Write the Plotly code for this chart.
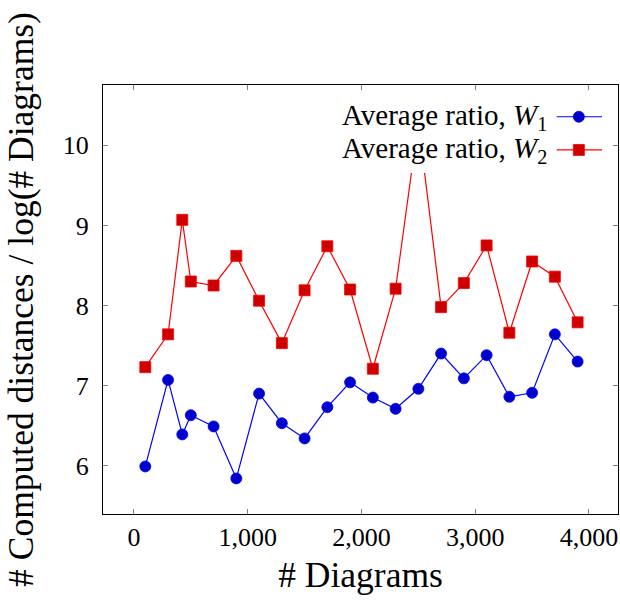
import plotly.graph_objects as go

x_vals = [100, 300, 425, 500, 700, 900, 1100, 1300, 1500, 1700, 1900, 2100,
          2300, 2500, 2700, 2900, 3100, 3300, 3500, 3700, 3900]
w1_ratio = [5.99, 7.07, 6.39, 6.63, 6.49, 5.84, 6.90, 6.53, 6.34, 6.73, 7.04, 6.85,
            6.71, 6.96, 7.40, 7.09, 7.38, 6.86, 6.91, 7.64, 7.30]
w2_ratio = [7.23, 7.64, 9.07, 8.30, 8.25, 8.62, 8.06, 7.53, 8.19, 8.74, 8.20, 7.21,
            8.21, 10.29, 7.98, 8.28, 8.75, 7.66, 8.55, 8.36, 7.79]
series_names = ["Average ratio, <i>W</i><sub>1</sub>", "Average ratio, <i>W</i><sub>2</sub>"]
x_ticks = [0, 1000, 2000, 3000, 4000]
x_tick_text = ["0", "1,000", "2,000", "3,000", "4,000"]
y_ticks = [6, 7, 8, 9, 10]

FONT = "Liberation Serif"

fig = go.Figure()
fig.add_trace(go.Scatter(
    x=x_vals, y=w1_ratio, mode="lines+markers", name=series_names[0],
    line=dict(color="#0000ff", width=1.2),
    marker=dict(symbol="circle", size=11, color="#0000cc", line=dict(color="#0000ff", width=0.8)),
    showlegend=False, cliponaxis=True))
fig.add_trace(go.Scatter(
    x=x_vals, y=w2_ratio, mode="lines+markers", name=series_names[1],
    line=dict(color="#ff0000", width=1.2),
    marker=dict(symbol="square", size=11, color="#cc0000", line=dict(color="#ff0000", width=0.8)),
    showlegend=False, cliponaxis=True))

# custom legend (text left, symbol right), drawn above the data
shapes = [dict(type="rect", xref="paper", yref="paper", x0=0.44, x1=0.985, y0=0.795, y1=0.975,
               fillcolor="white", line=dict(width=0), layer="above")]
annotations = []
rows = [(0.926, "#0000ff", "#0000cc", "circle"), (0.8486, "#ff0000", "#cc0000", "rect")]
for (yy, lc, fc, kind), name in zip(rows, series_names):
    shapes.append(dict(type="line", xref="paper", yref="paper", x0=0.881, x1=0.969, y0=yy, y1=yy,
                       line=dict(color=lc, width=1.2), layer="above"))
    hw, hh = 5.5 / 515, 5.5 / 429.3
    shapes.append(dict(type=kind, xref="paper", yref="paper", x0=0.924 - hw, x1=0.924 + hw,
                       y0=yy - hh, y1=yy + hh, fillcolor=fc, line=dict(color=lc, width=0.8),
                       layer="above"))
    annotations.append(dict(xref="paper", yref="paper", x=0.866, y=yy, text=name, showarrow=False,
                            xanchor="right", yanchor="middle",
                            font=dict(family=FONT, size=29, color="black")))

fig.update_layout(
    width=620, height=601,
    margin=dict(l=103, r=2, t=85, b=87),
    paper_bgcolor="white", plot_bgcolor="white",
    font=dict(family=FONT, color="black"),
    shapes=shapes, annotations=annotations,
    showlegend=False,
)
fig.update_xaxes(
    range=[-272, 4255], tickvals=x_ticks, ticktext=x_tick_text,
    ticks="inside", ticklen=5, tickcolor="#808080", tickwidth=1,
    showline=True, linecolor="black", linewidth=1.2, mirror="ticks",
    showgrid=False, zeroline=False,
    tickfont=dict(family=FONT, size=26, color="black"),
    title=dict(text="# Diagrams", font=dict(family=FONT, size=35.5, color="black"), standoff=10),
    automargin=False,
)
fig.update_yaxes(
    range=[5.396, 10.754], tickvals=y_ticks,
    ticks="inside", ticklen=5, tickcolor="#808080", tickwidth=1,
    ticklabelstandoff=8,
    showline=True, linecolor="black", linewidth=1.2, mirror="ticks",
    showgrid=False, zeroline=False,
    tickfont=dict(family=FONT, size=26, color="black"),
    title=dict(text="# Computed distances / log(# Diagrams)",
               font=dict(family=FONT, size=35.5, color="black"), standoff=18),
    automargin=False,
)

fig.write_html("out.html")
